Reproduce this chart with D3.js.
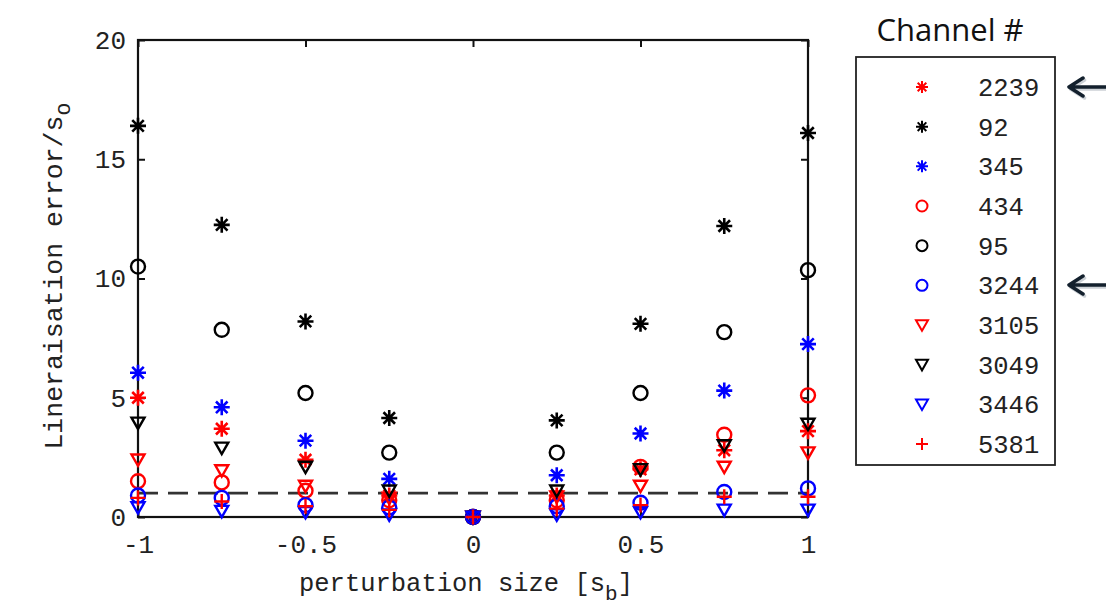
<!DOCTYPE html>
<html><head><meta charset="utf-8">
<script src="https://cdn.jsdelivr.net/npm/d3@7"></script>
<style>body{margin:0;background:#fff}svg{display:block}</style>
</head><body>
<svg id="c" width="1106" height="613"></svg>
<script>
const xValues = [-1, -0.75, -0.5, -0.25, 0, 0.25, 0.5, 0.75, 1];
const ch2239 = [5.0, 3.7, 2.4, 0.9, 0, 0.9, 2.0, 2.8, 3.6];
const ch92   = [16.4, 12.25, 8.2, 4.15, 0, 4.05, 8.1, 12.2, 16.1];
const ch345  = [6.05, 4.6, 3.2, 1.6, 0, 1.75, 3.5, 5.3, 7.25];
const ch434  = [1.5, 1.45, 1.1, 0.7, 0, 0.7, 2.1, 3.45, 5.1];
const ch95   = [10.5, 7.85, 5.2, 2.7, 0, 2.7, 5.2, 7.75, 10.35];
const ch3244 = [0.9, 0.8, 0.5, 0.4, 0, 0.45, 0.6, 1.05, 1.2];
const ch3105 = [2.4, 1.95, 1.3, 0.8, 0, 0.85, 1.3, 2.1, 2.7];
const ch3049 = [3.95, 2.9, 2.1, 1.1, 0, 1.1, 2.0, 3.0, 3.9];
const ch3446 = [0.4, 0.25, 0.2, 0.1, 0, 0.1, 0.2, 0.3, 0.3];
const ch5381 = [0.8, 0.65, 0.45, 0.3, 0, 0.35, 0.5, 0.85, 0.85];
const channelNames = ["2239","92","345","434","95","3244","3105","3049","3446","5381"];
const channelValues = [ch2239, ch92, ch345, ch434, ch95, ch3244, ch3105, ch3049, ch3446, ch5381];
const channelMarkers = ["star","star","star","circle","circle","circle","tri","tri","tri","plus"];
const channelColors = ["#ff0000","#000000","#0000ff","#ff0000","#000000","#0000ff","#ff0000","#000000","#0000ff","#ff0000"];
const xTicks = [-1, -0.5, 0, 0.5, 1];
const xTickLabels = ["-1", "-0.5", "0", "0.5", "1"];
const yTicks = [0, 5, 10, 15, 20];
const thresholdValue = 1;

const svg = d3.select("#c");
const L = 138, R = 808, T = 40, B = 517;
const x = d3.scaleLinear().domain([-1, 1]).range([L, R]);
const y = d3.scaleLinear().domain([0, 20]).range([B, T]);
const mono = "'Liberation Mono', 'DejaVu Sans Mono', monospace";

function markerPath(type, s) {
  const p = d3.path();
  if (type === "star") {
    const d = s * 0.72;
    p.moveTo(-s, 0); p.lineTo(s, 0);
    p.moveTo(0, -s); p.lineTo(0, s);
    p.moveTo(-d, -d); p.lineTo(d, d);
    p.moveTo(-d, d); p.lineTo(d, -d);
  } else if (type === "circle") {
    p.moveTo(s, 0); p.arc(0, 0, s, 0, 2 * Math.PI);
  } else if (type === "tri") {
    p.moveTo(-s, -s * 0.8); p.lineTo(s, -s * 0.8); p.lineTo(0, s * 0.95); p.closePath();
  } else {
    p.moveTo(-s, 0); p.lineTo(s, 0);
    p.moveTo(0, -s); p.lineTo(0, s);
  }
  return p.toString();
}
const markerSize = {star: 8, circle: 7, tri: 6.5, plus: 7.5};
const markerStroke = {star: 2.6, circle: 2.4, tri: 2.4, plus: 2.4};

// axes box
svg.append("rect").attr("x", L).attr("y", T).attr("width", R - L).attr("height", B - T)
  .attr("fill", "none").attr("stroke", "#111").attr("stroke-width", 2.2);

// y ticks (inside, both sides)
const yAxisL = d3.axisLeft(y).tickValues(yTicks).tickSizeInner(-7).tickSizeOuter(0).tickPadding(12);
const gy = svg.append("g").attr("transform", `translate(${L},0)`).call(yAxisL);
gy.select(".domain").remove();
gy.selectAll("line").attr("stroke", "#111").attr("stroke-width", 2);
gy.selectAll("text").attr("font-family", mono).attr("font-size", 26).attr("fill", "#222");
const yAxisR = d3.axisRight(y).tickValues(yTicks).tickSizeInner(-7).tickSizeOuter(0).tickFormat("");
const gyr = svg.append("g").attr("transform", `translate(${R},0)`).call(yAxisR);
gyr.select(".domain").remove();
gyr.selectAll("line").attr("stroke", "#111").attr("stroke-width", 2);

// x ticks
const xAxisB = d3.axisBottom(x).tickValues(xTicks).tickSizeInner(-7).tickSizeOuter(0)
  .tickPadding(18).tickFormat((d, i) => xTickLabels[i]);
const gx = svg.append("g").attr("transform", `translate(0,${B})`).call(xAxisB);
gx.select(".domain").remove();
gx.selectAll("line").attr("stroke", "#111").attr("stroke-width", 2);
gx.selectAll("text").attr("font-family", mono).attr("font-size", 26).attr("fill", "#222");
const xAxisT = d3.axisTop(x).tickValues(xTicks).tickSizeInner(-7).tickSizeOuter(0).tickFormat("");
const gxt = svg.append("g").attr("transform", `translate(0,${T})`).call(xAxisT);
gxt.select(".domain").remove();
gxt.selectAll("line").attr("stroke", "#111").attr("stroke-width", 2);

// threshold dashed line
svg.append("line").attr("x1", L).attr("x2", R).attr("y1", y(thresholdValue)).attr("y2", y(thresholdValue))
  .attr("stroke", "#333").attr("stroke-width", 2.6).attr("stroke-dasharray", "20,10");

// markers
channelValues.forEach((vals, si) => {
  const m = channelMarkers[si];
  svg.append("g").selectAll("path").data(vals).join("path")
    .attr("transform", (d, i) => `translate(${x(xValues[i])},${y(d)})`)
    .attr("d", markerPath(m, markerSize[m]))
    .attr("fill", "none").attr("stroke", channelColors[si]).attr("stroke-width", markerStroke[m]);
});

// axis labels
const xl = svg.append("text").attr("x", 466).attr("y", 591).attr("text-anchor", "middle")
  .attr("font-family", mono).attr("font-size", 25.5).attr("fill", "#222");
xl.append("tspan").text("perturbation size [s");
xl.append("tspan").attr("dy", 9).attr("font-size", 21).text("b");
xl.append("tspan").attr("dy", -9).text("]");

const yl = svg.append("text").attr("transform", "translate(62,276) rotate(-90)").attr("text-anchor", "middle")
  .attr("font-family", mono).attr("font-size", 26.5).attr("fill", "#222");
yl.append("tspan").text("Lineraisation error/s");
yl.append("tspan").attr("dy", 8).attr("font-size", 22).text("o");

// legend
svg.append("text").attr("x", 950).attr("y", 41).attr("text-anchor", "middle")
  .attr("font-family", "'Open Sans', Lato, sans-serif").attr("font-size", 31).attr("fill", "#111").text("Channel #");
svg.append("rect").attr("x", 856).attr("y", 57).attr("width", 199).attr("height", 408)
  .attr("fill", "#fff").attr("stroke", "#222").attr("stroke-width", 1.8);
const ly = d3.scaleLinear().domain([0, 9]).range([87, 444]);
channelNames.forEach((nm, i) => {
  svg.append("path").attr("transform", `translate(922,${ly(i)})`)
    .attr("d", markerPath(channelMarkers[i], channelMarkers[i] === "circle" ? 5.5 : 6))
    .attr("fill", "none").attr("stroke", channelColors[i]).attr("stroke-width", 2);
  svg.append("text").attr("x", 978).attr("y", ly(i) + 9).attr("font-family", mono)
    .attr("font-size", 25.5).attr("fill", "#222").text(nm);
});

// arrows
[87, 285].forEach(ay => {
  const g = svg.append("g");
  [["#9aa3ad", 1.5, 2], ["#13202d", 0, 0]].forEach(([col, dx, dy]) => {
    g.append("path").attr("transform", `translate(${dx},${dy})`)
      .attr("d", `M1106,${ay} L1070,${ay} M1083,${ay - 9} L1069,${ay} L1083,${ay + 9}`)
      .attr("fill", "none").attr("stroke", col).attr("stroke-width", 3.5)
      .attr("stroke-linecap", "round").attr("stroke-linejoin", "round").attr("opacity", dx ? 0.5 : 1);
  });
});
</script>
</body></html>
